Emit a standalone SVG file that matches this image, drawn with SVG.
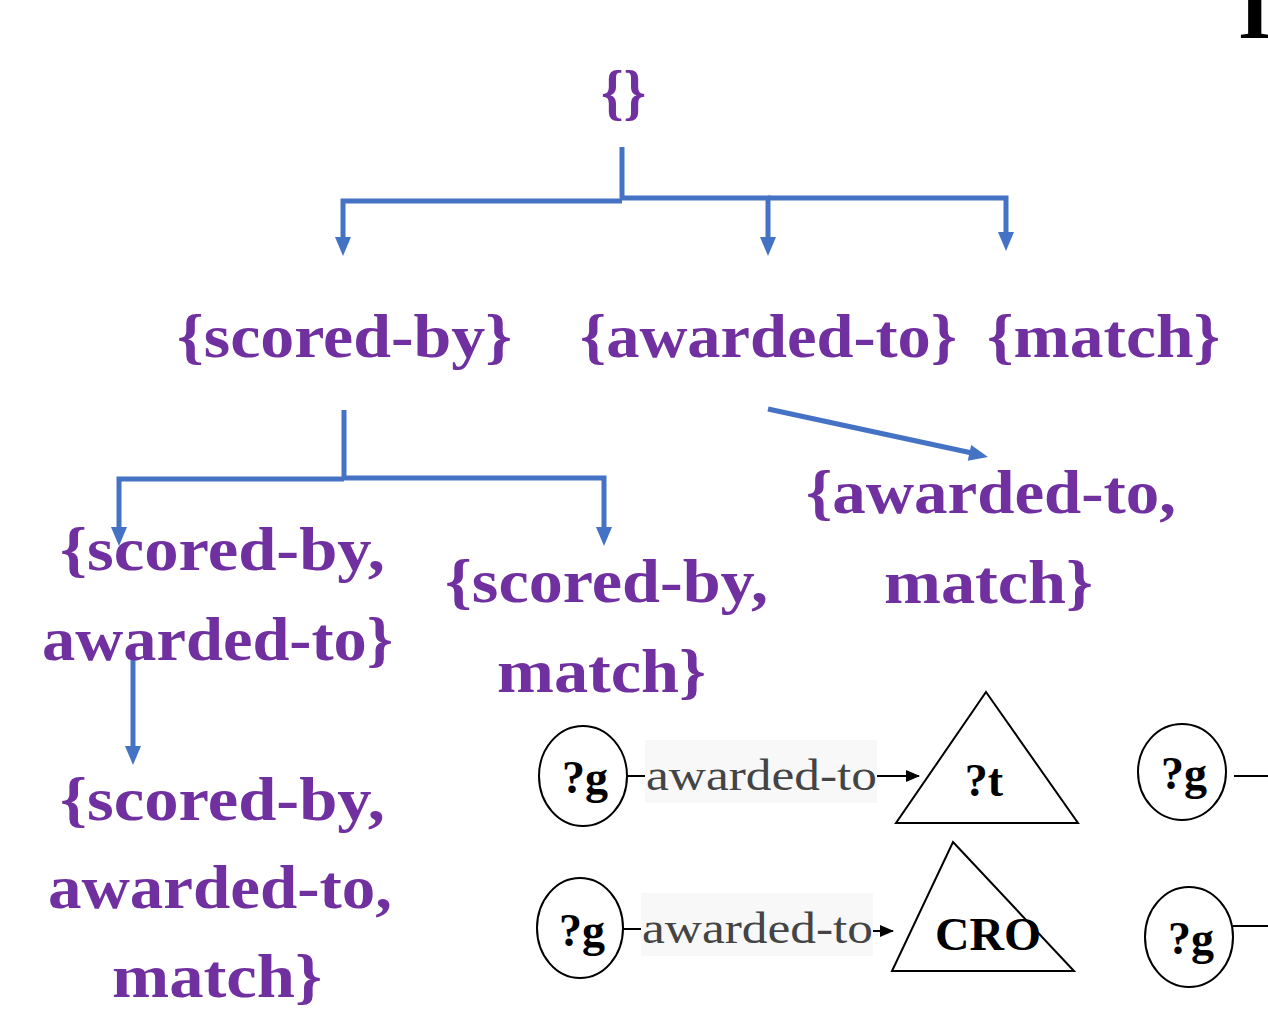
<svg xmlns="http://www.w3.org/2000/svg" width="1268" height="1009" viewBox="0 0 1268 1009">
  <style>
    .set { font-family: "Liberation Serif", "DejaVu Serif", serif; font-weight: bold; font-size: 62px; fill: #7030A0; }
    .var { font-family: "Liberation Serif", "DejaVu Serif", serif; font-weight: bold; font-size: 46px; fill: #000; text-anchor: middle; }
    .rel { font-family: "Liberation Serif", "DejaVu Serif", serif; font-size: 44px; fill: #444; }
    .link { fill: none; stroke: #4472C4; stroke-width: 5; }
    .head { fill: #4472C4; }
    .shape { fill: #fff; stroke: #000; stroke-width: 2; }
    .edge { fill: none; stroke: #000; stroke-width: 2; }
    .relbg { fill: #f8f8f8; }
  </style>
  <defs>
    <!-- downward arrowhead, tip at the origin -->
    <path id="headDown" d="M-8,-19 L8,-19 L0,0 z"/>
    <marker id="blackHead" viewBox="0 0 14 12" refX="13" refY="6" markerWidth="14" markerHeight="12" orient="auto" markerUnits="userSpaceOnUse">
      <path d="M0,0 L14,6 L0,12 z" fill="#000"/>
    </marker>
  </defs>

  <rect width="1268" height="1009" fill="#fff"/>

  <!-- letter clipped by the top-right edge -->
  <text x="1238" y="38" font-family="Liberation Serif, serif" font-weight="bold" font-size="86" fill="#000">I</text>

  <!-- lattice connectors -->
  <g id="connectors">
    <path class="link" d="M622,147 V200"/>
    <path class="link" d="M622,201 H343 V240"/>
    <path class="link" d="M622,198 H768 V240"/>
    <path class="link" d="M768,198 H1006 V235"/>
    <path class="link" d="M344,410 V478"/>
    <path class="link" d="M344,479 H119 V530"/>
    <path class="link" d="M344,478 H604 V530"/>
    <path class="link" d="M768,409 L972,453"/>
    <path class="link" d="M133,648 V749"/>
    <use href="#headDown" class="head" x="343" y="256"/>
    <use href="#headDown" class="head" x="768" y="256"/>
    <use href="#headDown" class="head" x="1006" y="251"/>
    <use href="#headDown" class="head" x="119" y="546"/>
    <use href="#headDown" class="head" x="604" y="546"/>
    <use href="#headDown" class="head" x="133" y="765"/>
    <use href="#headDown" class="head" transform="translate(988,457) rotate(-77.6)"/>
  </g>

  <!-- lattice nodes -->
  <g id="n-empty"><text class="set" x="601" y="113" textLength="45" lengthAdjust="spacingAndGlyphs">{}</text></g>
  <g id="n-scored"><text class="set" x="177" y="357" textLength="335" lengthAdjust="spacingAndGlyphs">{scored-by}</text></g>
  <g id="n-awarded"><text class="set" x="580" y="357" textLength="377" lengthAdjust="spacingAndGlyphs">{awarded-to}</text></g>
  <g id="n-match"><text class="set" x="987" y="357" textLength="233" lengthAdjust="spacingAndGlyphs">{match}</text></g>
  <g id="n-awarded-match">
    <text class="set" x="806" y="513" textLength="370" lengthAdjust="spacingAndGlyphs">{awarded-to,</text>
    <text class="set" x="884" y="603" textLength="209" lengthAdjust="spacingAndGlyphs">match}</text>
  </g>
  <g id="n-scored-awarded">
    <text class="set" x="60" y="570" textLength="325" lengthAdjust="spacingAndGlyphs">{scored-by,</text>
    <text class="set" x="42" y="660" textLength="351" lengthAdjust="spacingAndGlyphs">awarded-to}</text>
  </g>
  <g id="n-scored-match">
    <text class="set" x="445" y="602" textLength="323" lengthAdjust="spacingAndGlyphs">{scored-by,</text>
    <text class="set" x="497" y="692" textLength="209" lengthAdjust="spacingAndGlyphs">match}</text>
  </g>
  <g id="n-all">
    <text class="set" x="60" y="820" textLength="325" lengthAdjust="spacingAndGlyphs">{scored-by,</text>
    <text class="set" x="48" y="908" textLength="344" lengthAdjust="spacingAndGlyphs">awarded-to,</text>
    <text class="set" x="112" y="997" textLength="210" lengthAdjust="spacingAndGlyphs">match}</text>
  </g>

  <!-- query pattern: ?g awarded-to ?t -->
  <g id="pattern-1">
    <path class="edge" d="M627,776 H645"/>
    <rect class="relbg" x="645" y="740" width="232" height="63"/>
    <text class="rel" x="646" y="790" textLength="231" lengthAdjust="spacingAndGlyphs">awarded-to</text>
    <path class="edge" d="M877,776 H919" marker-end="url(#blackHead)"/>
    <ellipse class="shape" cx="583" cy="776" rx="44" ry="50"/>
    <text class="var" x="585" y="793">?g</text>
    <polygon class="shape" points="986,692 1078,823 896,823"/>
    <text class="var" x="984" y="796">?t</text>
  </g>

  <!-- query pattern: ?g awarded-to CRO -->
  <g id="pattern-2">
    <path class="edge" d="M623,929 H641"/>
    <rect class="relbg" x="641" y="893" width="232" height="63"/>
    <text class="rel" x="642" y="943" textLength="231" lengthAdjust="spacingAndGlyphs">awarded-to</text>
    <path class="edge" d="M873,931 H893" marker-end="url(#blackHead)"/>
    <ellipse class="shape" cx="580" cy="928" rx="43" ry="50"/>
    <text class="var" x="582" y="946">?g</text>
    <polygon class="shape" points="953,842 1074,971 892,971"/>
    <text class="var" x="988" y="950" font-size="52" textLength="106" lengthAdjust="spacingAndGlyphs">CRO</text>
  </g>

  <!-- further patterns running off the right edge -->
  <g id="pattern-3">
    <ellipse class="shape" cx="1182" cy="772" rx="44" ry="48"/>
    <text class="var" x="1184" y="789">?g</text>
    <path class="edge" d="M1234,776 H1268"/>
  </g>
  <g id="pattern-4">
    <ellipse class="shape" cx="1189" cy="937" rx="44" ry="50"/>
    <text class="var" x="1191" y="954">?g</text>
    <path class="edge" d="M1233,926 H1268"/>
  </g>
</svg>
